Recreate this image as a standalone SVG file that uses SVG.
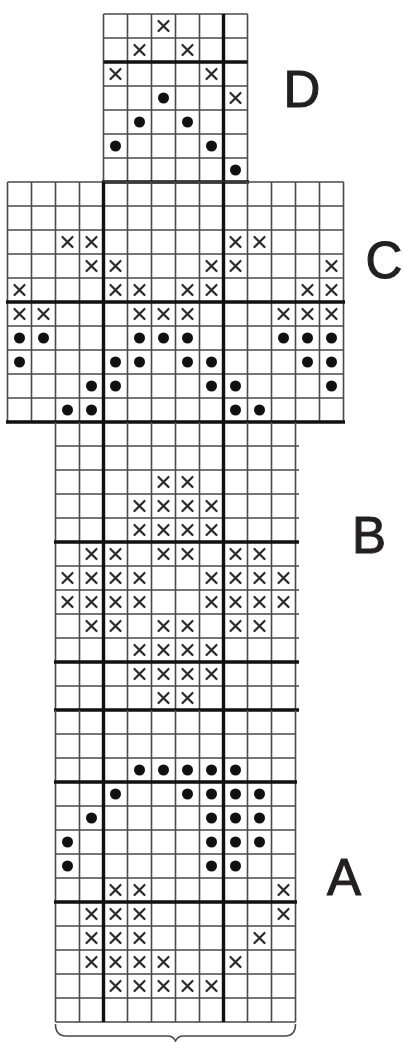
<svg xmlns="http://www.w3.org/2000/svg" width="403" height="1042" viewBox="0 0 403 1042">
<style>
.thin{fill:none;stroke:#4a4a4a;stroke-width:1.6}
.thick{fill:none;stroke:#111;stroke-width:3.4}
.xm{fill:none;stroke:#2a2a2a;stroke-width:2.2;stroke-linecap:round}
.dot{fill:#111}
.lbl{font-family:"Liberation Sans",Arial,sans-serif;font-size:51px;fill:#231f20;stroke:#231f20;stroke-width:1.1;text-anchor:middle}
</style>
<defs>
<path id="x" class="xm" d="M-5,-5L5,5M5,-5L-5,5"/>
<circle id="d" class="dot" r="5.5"/>
</defs>
<rect width="403" height="1042" fill="#fff"/>

<g id="section-D">
<path class="thin" d="M103.5,14V182M127.5,14V182M151.5,14V182M175.5,14V182M199.5,14V182M247.5,14V182M103.5,14H247.5M103.5,38H247.5M103.5,86H247.5M103.5,110H247.5M103.5,134H247.5M103.5,158H247.5"/>
<path class="thick" d="M223.5,14V182M103.5,62H247.5M102,182H249"/>
<use href="#x" x="163.5" y="26"/><use href="#x" x="139.5" y="50"/><use href="#x" x="187.5" y="50"/>
<use href="#x" x="115.5" y="74"/><use href="#x" x="211.5" y="74"/><use href="#x" x="235.5" y="98"/>
<use href="#d" x="163.5" y="98"/><use href="#d" x="139.5" y="122"/><use href="#d" x="187.5" y="122"/>
<use href="#d" x="115.5" y="146"/><use href="#d" x="211.5" y="146"/><use href="#d" x="235.5" y="170"/>
</g>

<g id="section-C">
<path class="thin" d="M7.5,182V422M31.5,182V422M55.5,182V422M79.5,182V422M127.5,182V422M151.5,182V422M175.5,182V422M199.5,182V422M247.5,182V422M271.5,182V422M295.5,182V422M319.5,182V422M343.5,182V422M7.5,182H343.5M7.5,206H343.5M7.5,230H343.5M7.5,254H343.5M7.5,278H343.5M7.5,326H343.5M7.5,350H343.5M7.5,374H343.5M7.5,398H343.5"/>
<path class="thick" d="M103.5,182V422M223.5,182V422M6,302H345M6,422H345"/>
<use href="#x" x="67.5" y="242"/><use href="#x" x="91.5" y="242"/><use href="#x" x="235.5" y="242"/><use href="#x" x="259.5" y="242"/>
<use href="#x" x="91.5" y="266"/><use href="#x" x="115.5" y="266"/><use href="#x" x="211.5" y="266"/><use href="#x" x="235.5" y="266"/><use href="#x" x="331.5" y="266"/>
<use href="#x" x="19.5" y="290"/><use href="#x" x="115.5" y="290"/><use href="#x" x="139.5" y="290"/><use href="#x" x="187.5" y="290"/><use href="#x" x="211.5" y="290"/><use href="#x" x="307.5" y="290"/><use href="#x" x="331.5" y="290"/>
<use href="#x" x="19.5" y="314"/><use href="#x" x="43.5" y="314"/><use href="#x" x="139.5" y="314"/><use href="#x" x="163.5" y="314"/><use href="#x" x="187.5" y="314"/><use href="#x" x="283.5" y="314"/><use href="#x" x="307.5" y="314"/><use href="#x" x="331.5" y="314"/>
<use href="#d" x="19.5" y="338"/><use href="#d" x="43.5" y="338"/><use href="#d" x="139.5" y="338"/><use href="#d" x="163.5" y="338"/><use href="#d" x="187.5" y="338"/><use href="#d" x="283.5" y="338"/><use href="#d" x="307.5" y="338"/><use href="#d" x="331.5" y="338"/>
<use href="#d" x="19.5" y="362"/><use href="#d" x="115.5" y="362"/><use href="#d" x="139.5" y="362"/><use href="#d" x="187.5" y="362"/><use href="#d" x="211.5" y="362"/><use href="#d" x="307.5" y="362"/><use href="#d" x="331.5" y="362"/>
<use href="#d" x="91.5" y="386"/><use href="#d" x="115.5" y="386"/><use href="#d" x="211.5" y="386"/><use href="#d" x="235.5" y="386"/><use href="#d" x="331.5" y="386"/>
<use href="#d" x="67.5" y="410"/><use href="#d" x="91.5" y="410"/><use href="#d" x="235.5" y="410"/><use href="#d" x="259.5" y="410"/>
</g>

<g id="section-B">
<path class="thin" d="M55.5,422V710M79.5,422V710M127.5,422V710M151.5,422V710M175.5,422V710M199.5,422V710M247.5,422V710M271.5,422V710M295.5,422V710M55.5,446H299M55.5,470H299M55.5,494H299M55.5,518H299M55.5,566H299M55.5,590H299M55.5,614H299M55.5,638H299M55.5,686H299"/>
<path class="thick" d="M103.5,422V710M223.5,422V710M54,542H299M54,662H299M54,710H299"/>
<use href="#x" x="163.5" y="482"/><use href="#x" x="187.5" y="482"/>
<use href="#x" x="139.5" y="506"/><use href="#x" x="163.5" y="506"/><use href="#x" x="187.5" y="506"/><use href="#x" x="211.5" y="506"/>
<use href="#x" x="139.5" y="530"/><use href="#x" x="163.5" y="530"/><use href="#x" x="187.5" y="530"/><use href="#x" x="211.5" y="530"/>
<use href="#x" x="91.5" y="554"/><use href="#x" x="115.5" y="554"/><use href="#x" x="163.5" y="554"/><use href="#x" x="187.5" y="554"/><use href="#x" x="235.5" y="554"/><use href="#x" x="259.5" y="554"/>
<use href="#x" x="67.5" y="578"/><use href="#x" x="91.5" y="578"/><use href="#x" x="115.5" y="578"/><use href="#x" x="139.5" y="578"/><use href="#x" x="211.5" y="578"/><use href="#x" x="235.5" y="578"/><use href="#x" x="259.5" y="578"/><use href="#x" x="283.5" y="578"/>
<use href="#x" x="67.5" y="602"/><use href="#x" x="91.5" y="602"/><use href="#x" x="115.5" y="602"/><use href="#x" x="139.5" y="602"/><use href="#x" x="211.5" y="602"/><use href="#x" x="235.5" y="602"/><use href="#x" x="259.5" y="602"/><use href="#x" x="283.5" y="602"/>
<use href="#x" x="91.5" y="626"/><use href="#x" x="115.5" y="626"/><use href="#x" x="163.5" y="626"/><use href="#x" x="187.5" y="626"/><use href="#x" x="235.5" y="626"/><use href="#x" x="259.5" y="626"/>
<use href="#x" x="139.5" y="650"/><use href="#x" x="163.5" y="650"/><use href="#x" x="187.5" y="650"/><use href="#x" x="211.5" y="650"/>
<use href="#x" x="139.5" y="674"/><use href="#x" x="163.5" y="674"/><use href="#x" x="187.5" y="674"/><use href="#x" x="211.5" y="674"/>
<use href="#x" x="163.5" y="698"/><use href="#x" x="187.5" y="698"/>
</g>

<g id="section-A">
<path class="thin" d="M55.5,710V1022M79.5,710V1022M127.5,710V1022M151.5,710V1022M175.5,710V1022M199.5,710V1022M247.5,710V1022M271.5,710V1022M295.5,710V1022M55.5,734H295.5M55.5,758H295.5M55.5,806H295.5M55.5,830H295.5M55.5,854H295.5M55.5,878H295.5M55.5,926H295.5M55.5,950H295.5M55.5,974H295.5M55.5,998H295.5M55.5,1022H295.5"/>
<path class="thick" d="M103.5,710V1022M223.5,710V1022M54,782H297M54,902H297"/>
<use href="#d" x="139.5" y="770"/><use href="#d" x="163.5" y="770"/><use href="#d" x="187.5" y="770"/><use href="#d" x="211.5" y="770"/><use href="#d" x="235.5" y="770"/>
<use href="#d" x="115.5" y="794"/><use href="#d" x="187.5" y="794"/><use href="#d" x="211.5" y="794"/><use href="#d" x="235.5" y="794"/><use href="#d" x="259.5" y="794"/>
<use href="#d" x="91.5" y="818"/><use href="#d" x="211.5" y="818"/><use href="#d" x="235.5" y="818"/><use href="#d" x="259.5" y="818"/>
<use href="#d" x="67.5" y="842"/><use href="#d" x="211.5" y="842"/><use href="#d" x="235.5" y="842"/><use href="#d" x="259.5" y="842"/>
<use href="#d" x="67.5" y="866"/><use href="#d" x="211.5" y="866"/><use href="#d" x="235.5" y="866"/>
<use href="#x" x="115.5" y="890"/><use href="#x" x="139.5" y="890"/><use href="#x" x="283.5" y="890"/>
<use href="#x" x="91.5" y="914"/><use href="#x" x="115.5" y="914"/><use href="#x" x="139.5" y="914"/><use href="#x" x="283.5" y="914"/>
<use href="#x" x="91.5" y="938"/><use href="#x" x="115.5" y="938"/><use href="#x" x="139.5" y="938"/><use href="#x" x="259.5" y="938"/>
<use href="#x" x="91.5" y="962"/><use href="#x" x="115.5" y="962"/><use href="#x" x="139.5" y="962"/><use href="#x" x="163.5" y="962"/><use href="#x" x="235.5" y="962"/>
<use href="#x" x="115.5" y="986"/><use href="#x" x="139.5" y="986"/><use href="#x" x="163.5" y="986"/><use href="#x" x="187.5" y="986"/><use href="#x" x="211.5" y="986"/>
<path id="brace" class="thin" d="M55.5,1024Q55.5,1036 66,1036H168Q173,1036 175.5,1041Q178,1036 183,1036H285Q295.5,1036 295.5,1024"/>
</g>

<g id="labels">
<text class="lbl" x="302" y="107">D</text>
<text class="lbl" x="384" y="278">C</text>
<text class="lbl" x="369" y="553">B</text>
<text class="lbl" x="344" y="895">A</text>
</g>
</svg>
